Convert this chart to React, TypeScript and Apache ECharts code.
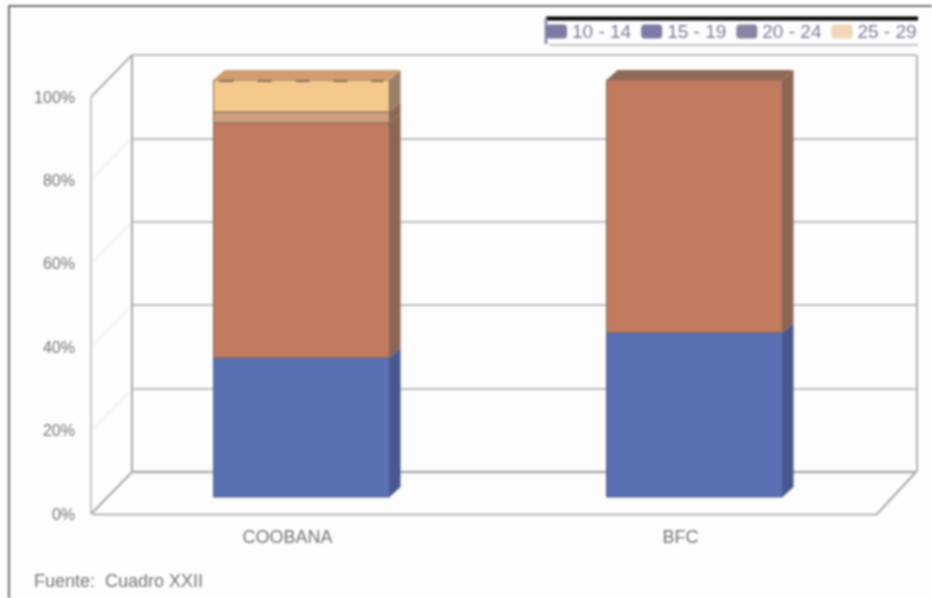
import React, { useEffect, useRef } from "react";
import * as echarts from "echarts";

const categories = ["COOBANA", "BFC"];
const ageGroups = ["10 - 14", "15 - 19", "20 - 24", "25 - 29"];
const values1014 = [33.4, 39.4];
const values1519 = [56.3, 60.6];
const values2024 = [2.6, 0];
const values2529 = [7.7, 0];
const yTicks = [0, 20, 40, 60, 80, 100];

const front = ["#5b70b3", "#c27a5f", "#cf9f7c", "#f5c88c"];
const side = ["#46588f", "#8d6553", "#8d6553", "#9a8068"];
const top = ["#5b70b3", "#8f6a55", "#8f6a55", "#cf9d70"];
const legendIcon = ["#7c7aa6", "#7c7aa6", "#8a84a0", "#f0d6b8"];
const allValues = [values1014, values1519, values2024, values2529];

const BAR_W = 176;
const OFF_X = 14;
const OFF_Y = -17;
const DEPTH_X = 11;
const DEPTH_Y = -10;

function renderBar(params: any, api: any) {
  const cat = api.value(0);
  const start = api.value(1);
  const end = api.value(2);
  const sIdx = params.seriesIndex;
  if (end <= start) return { type: "group", children: [] };
  const b = api.coord([cat, start]);
  const t = api.coord([cat, end]);
  const x0 = b[0] + OFF_X - BAR_W / 2;
  const x1 = x0 + BAR_W;
  const yb = b[1] + OFF_Y;
  const yt = t[1] + OFF_Y;
  const edge = "#7a6a5c";
  const children: any[] = [
    {
      type: "polygon",
      shape: { points: [[x1, yb], [x1 + DEPTH_X, yb + DEPTH_Y], [x1 + DEPTH_X, yt + DEPTH_Y], [x1, yt]] },
      style: { fill: side[sIdx] },
    },
    {
      type: "rect",
      shape: { x: x0, y: yt, width: BAR_W, height: yb - yt },
      style: { fill: front[sIdx], stroke: sIdx === 0 ? "#4f6199" : edge, lineWidth: 1 },
    },
  ];
  if (end >= 99.9) {
    children.push({
      type: "polygon",
      shape: { points: [[x0, yt], [x0 + DEPTH_X, yt + DEPTH_Y], [x1 + DEPTH_X, yt + DEPTH_Y], [x1, yt]] },
      style: { fill: top[sIdx] },
    });
    if (sIdx === 3) {
      children.push({
        type: "line",
        shape: { x1: x0 + 6, y1: yt + 1, x2: x1 - 6, y2: yt + 1 },
        style: { stroke: "#6b5a4a", lineWidth: 1.5, lineDash: [14, 24] },
      });
    }
  }
  return { type: "group", children };
}

function seriesFor(i: number) {
  const data = categories.map((_, c) => {
    let start = 0;
    for (let k = 0; k < i; k++) start += allValues[k][c];
    return [c, start, start + allValues[i][c]];
  });
  return {
    type: "custom",
    name: ageGroups[i],
    renderItem: renderBar,
    xAxisIndex: 0,
    yAxisIndex: 0,
    encode: { x: 0, y: [1, 2] },
    itemStyle: { color: legendIcon[i] },
    data,
    z: 5,
    clip: false,
  };
}

const wall = "#a8a8a8";
const line = (x1: number, y1: number, x2: number, y2: number, stroke = wall, lineWidth = 2) => ({
  type: "line",
  shape: { x1, y1, x2, y2 },
  style: { stroke, lineWidth },
  z: 1,
});

export default function App() {
  const ref = useRef<HTMLDivElement>(null);
  useEffect(() => {
    if (!ref.current) return;
    const chart = echarts.init(ref.current, undefined, { renderer: "svg" });
    const diagonals = [1, 2, 3, 4].map((k) => {
      const step = 83.4;
      return line(93, 514 - step * k - 2, 130, 472 - step * k + 2, "#f0f0f0", 2);
    });
    chart.setOption({
      animation: false,
      backgroundColor: "#fdfdfd",
      textStyle: { fontFamily: "Liberation Sans" },
      legend: {
        left: 546,
        top: 22,
        itemWidth: 21,
        itemHeight: 14,
        itemGap: 10,
        padding: 0,
        selectedMode: false,
        icon: "roundRect",
        data: ageGroups,
        textStyle: { fontSize: 19, color: "#7d7a9e" },
      },
      grid: [
        { left: 91, top: 97, width: 786, height: 417 },
        { left: 132, top: 55, width: 784, height: 417 },
      ],
      xAxis: [
        {
          type: "category",
          gridIndex: 0,
          data: categories,
          axisLine: { show: false },
          axisTick: { show: false },
          axisLabel: { fontSize: 18, color: "#757575", margin: 14 },
        },
        { type: "category", gridIndex: 1, data: categories, show: false },
      ],
      yAxis: [
        {
          type: "value",
          gridIndex: 0,
          min: 0,
          max: 100,
          interval: 20,
          axisLine: { show: false },
          axisTick: { show: false },
          splitLine: { show: false },
          axisLabel: { fontSize: 16, color: "#757575", margin: 16, formatter: (v: number) => (yTicks.includes(v) ? `${v}%` : "") },
        },
        {
          type: "value",
          gridIndex: 1,
          min: 0,
          max: 100,
          interval: 20,
          axisLine: { show: false },
          axisTick: { show: false },
          axisLabel: { show: false },
          splitLine: { show: true, lineStyle: { color: "#a9a9a9", width: 1.5 } },
        },
      ],
      series: [0, 1, 2, 3].map(seriesFor),
      graphic: [
        line(8, 6, 932, 6, "#6f6f6f", 2),
        line(9, 6, 9, 598, "#6f6f6f", 2),
        line(546, 18.5, 918, 18.5, "#000000", 4),
        line(549, 45, 918, 45, "#8a8a8a", 1),
        line(546, 18, 546, 44, "#8f8fb0", 3),
        line(91, 97, 91, 514, "#b4b4b4", 1.5),
        line(132, 55, 132, 472, wall, 2),
        line(917, 55, 917, 472, "#b4b4b4", 2),
        line(91, 97, 132, 55, "#b0b0b0", 2),
        line(91, 514, 132, 472),
        line(132, 472, 916, 472, "#b0b0b0", 2.5),
        line(93, 514.5, 877, 514.5, "#a0a0a0", 1.5),
        line(877, 514, 916, 472),
        ...diagonals,
        {
          type: "text",
          x: 34,
          y: 572,
          style: { text: "Fuente:  Cuadro XXII", fontSize: 18, fill: "#757575", fontFamily: "Liberation Sans" },
        },
      ],
    });
    return () => chart.dispose();
  }, []);
  return (
    <div
      ref={ref}
      style={{ position: "fixed", left: 0, top: 0, width: 932, height: 598, filter: "blur(0.8px)" }}
    />
  );
}
